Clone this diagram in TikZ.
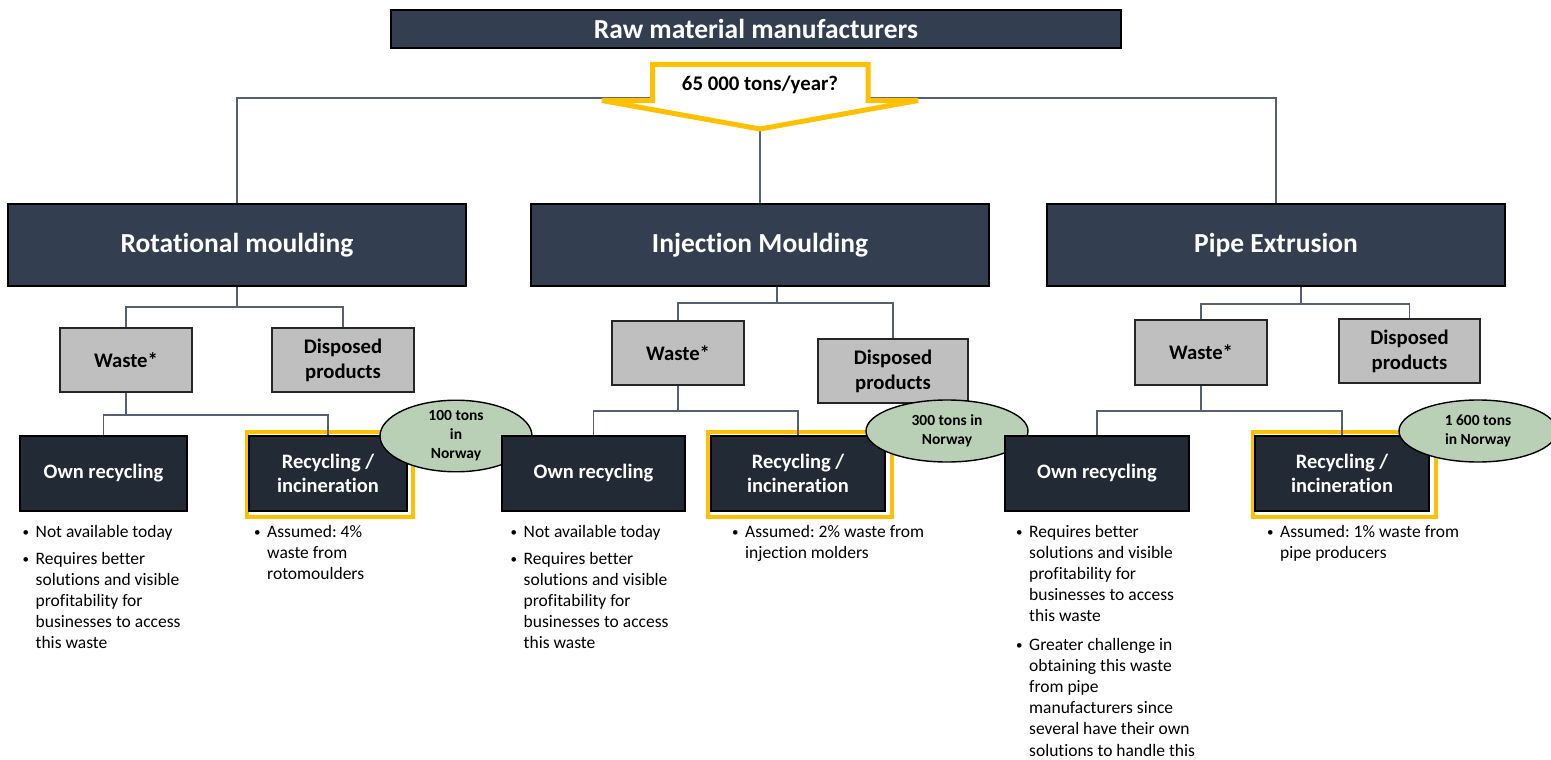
\documentclass[tikz,border=0pt]{standalone}
\usepackage{fontspec}
\setmainfont{Carlito}[Ligatures=NoCommon]
\frenchspacing
\usetikzlibrary{shapes.geometric,backgrounds}
\definecolor{boxA}{HTML}{333F50}
\definecolor{boxB}{HTML}{222A35}
\definecolor{grayF}{HTML}{BFBFBF}
\definecolor{yellowF}{HTML}{FFC000}
\definecolor{greenF}{HTML}{B9CFB6}
\definecolor{connC}{HTML}{56606E}
\tikzset{
  lvA/.style={draw=black, line width=1.6pt, fill=boxA, text=white, font=\bfseries\fontsize{27.5}{33}\selectfont, inner sep=0pt},
  lvG/.style={draw=black!85, line width=1.6pt, fill=grayF, text=black, font=\bfseries\fontsize{20.7}{25}\selectfont, align=center, inner sep=0pt},
  lvC/.style={draw=black, line width=1.6pt, fill=boxB, text=white, font=\bfseries\fontsize{20.5}{24}\selectfont, align=center, inner sep=0pt},
  frameY/.style={draw=yellowF, line width=4pt},
  conn/.style={draw=connC, line width=1.3pt},
  tag/.style={ellipse, draw=black, line width=1.4pt, fill=greenF, text=black, font=\bfseries\fontsize{15.5}{19}\selectfont, align=center, inner sep=0pt},
  bul/.style={anchor=base west, inner sep=0pt, font=\fontsize{17.5}{21.2}\selectfont},
}
\newcommand{\bitem}[1]{\makebox[13pt][l]{\raisebox{1pt}{\fontsize{13}{13}\selectfont\textbullet}}\begin{tabular}[t]{@{}l@{}}#1\end{tabular}}
\begin{document}
\begin{tikzpicture}[x=1pt,y=-1pt]
\useasboundingbox (0,0) rectangle (1551,760);

% top
\node[lvA, minimum width=730pt, minimum height=38pt] (raw) at (756,29) {Raw material manufacturers};
\filldraw[draw=yellowF, fill=white, line width=5pt, line join=miter]
  (652.5,64.5) -- (868,64.5) -- (868,100.5) -- (918,100.5) -- (760,129) -- (602,100.5) -- (652.5,100.5) -- cycle;
\node[font=\bfseries\fontsize{20.8}{25}\selectfont, inner sep=0pt] (qty) at (760,85) {65 000 tons/year?};
\coordinate (tip) at (760,131);
\coordinate (bus) at (760,98);

% level 2
\node[lvA, minimum width=458pt, minimum height=82pt] (rot) at (237,245) {Rotational moulding};
\node[lvA, minimum width=458pt, minimum height=82pt] (inj) at (760,245) {Injection Moulding};
\node[lvA, minimum width=458pt, minimum height=82pt] (pipe) at (1276,245) {Pipe Extrusion};

% column 1
\node[lvG, minimum width=132pt, minimum height=64pt] (w1) at (126,360) {Waste*};
\node[lvG, minimum width=142pt, minimum height=64pt] (d1) at (343,360) {Disposed\\products};
\node[lvC, minimum width=167pt, minimum height=75pt] (o1) at (103.5,473.5) {Own recycling};
\node[lvC, minimum width=158pt, minimum height=75pt] (r1) at (328,473.5) {Recycling /\\incineration};
\node[tag, minimum width=152pt, minimum height=64pt] (e1) at (456,436) {100 tons\\in\\Norway};
\node[bul] (t1a) at (22.5,537) {\bitem{Not available today}};
\node[bul] (t1b) at (22.5,564) {\bitem{Requires better\\solutions and visible\\profitability for\\businesses to access\\this waste}};
\node[bul] (t1c) at (254,537) {\bitem{Assumed: 4\%\\waste from\\rotomoulders}};

% column 2
\node[lvG, minimum width=132pt, minimum height=64pt] (w2) at (678,353) {Waste*};
\node[lvG, minimum width=150pt, minimum height=64pt] (d2) at (893,371) {Disposed\\products};
\node[lvC, minimum width=183pt, minimum height=75pt] (o2) at (593.5,473.5) {Own recycling};
\node[lvC, minimum width=174pt, minimum height=75pt] (r2) at (798,473.5) {Recycling /\\incineration};
\node[tag, minimum width=162pt, minimum height=62pt] (e2) at (947,431) {300 tons in\\Norway};
\node[bul] (t2a) at (510.5,537) {\bitem{Not available today}};
\node[bul] (t2b) at (510.5,564) {\bitem{Requires better\\solutions and visible\\profitability for\\businesses to access\\this waste}};
\node[bul] (t2c) at (732,537) {\bitem{Assumed: 2\% waste from\\injection molders}};

% column 3
\node[lvG, minimum width=132pt, minimum height=65pt] (w3) at (1201,352.5) {Waste*};
\node[lvG, minimum width=141pt, minimum height=64pt] (d3) at (1409.5,351) {Disposed\\products};
\node[lvC, minimum width=184pt, minimum height=75pt] (o3) at (1097,473.5) {Own recycling};
\node[lvC, minimum width=174pt, minimum height=75pt] (r3) at (1342,473.5) {Recycling /\\incineration};
\node[tag, minimum width=158pt, minimum height=62pt] (e3) at (1478,431) {1 600 tons\\in Norway};
\node[bul] (t3a) at (1016,537) {\bitem{Requires better\\solutions and visible\\profitability for\\businesses to access\\this waste}};
\node[bul] (t3b) at (1016,650) {\bitem{Greater challenge in\\obtaining this waste\\from pipe\\manufacturers since\\several have their own\\solutions to handle this}};
\node[bul] (t3c) at (1267,537) {\bitem{Assumed: 1\% waste from\\pipe producers}};

\coordinate (b1) at (237,307);
\coordinate (b2) at (777,303);
\coordinate (b3) at (1301,304);
\coordinate (c1) at (126,415);
\coordinate (c2) at (678,411);
\coordinate (c3) at (1201,411);

\begin{scope}[on background layer]
  \draw[frameY] (247,432) rectangle (413,517);
  \draw[frameY] (708,432) rectangle (892,517);
  \draw[frameY] (1253,432) rectangle (1435.5,517);
  \draw[conn] (rot.north) |- (bus) -| (pipe.north);
  \draw[conn] (tip) -- (inj.north);
  \draw[conn] (rot.south) -- (b1);
  \draw[conn] (w1.north) |- (b1) -| (d1.north);
  \draw[conn] (b2 |- inj.south) -- (b2);
  \draw[conn] (w2.north) |- (b2) -| (d2.north);
  \draw[conn] (b3 |- pipe.south) -- (b3);
  \draw[conn] (w3.north) |- (b3) -| (d3.north);
  \draw[conn] (w1.south) -- (c1);
  \draw[conn] (o1.north) |- (c1) -| (r1.north);
  \draw[conn] (w2.south) -- (c2);
  \draw[conn] (o2.north) |- (c2) -| (r2.north);
  \draw[conn] (w3.south) -- (c3);
  \draw[conn] (o3.north) |- (c3) -| (r3.north);
\end{scope}
\end{tikzpicture}
\end{document}
